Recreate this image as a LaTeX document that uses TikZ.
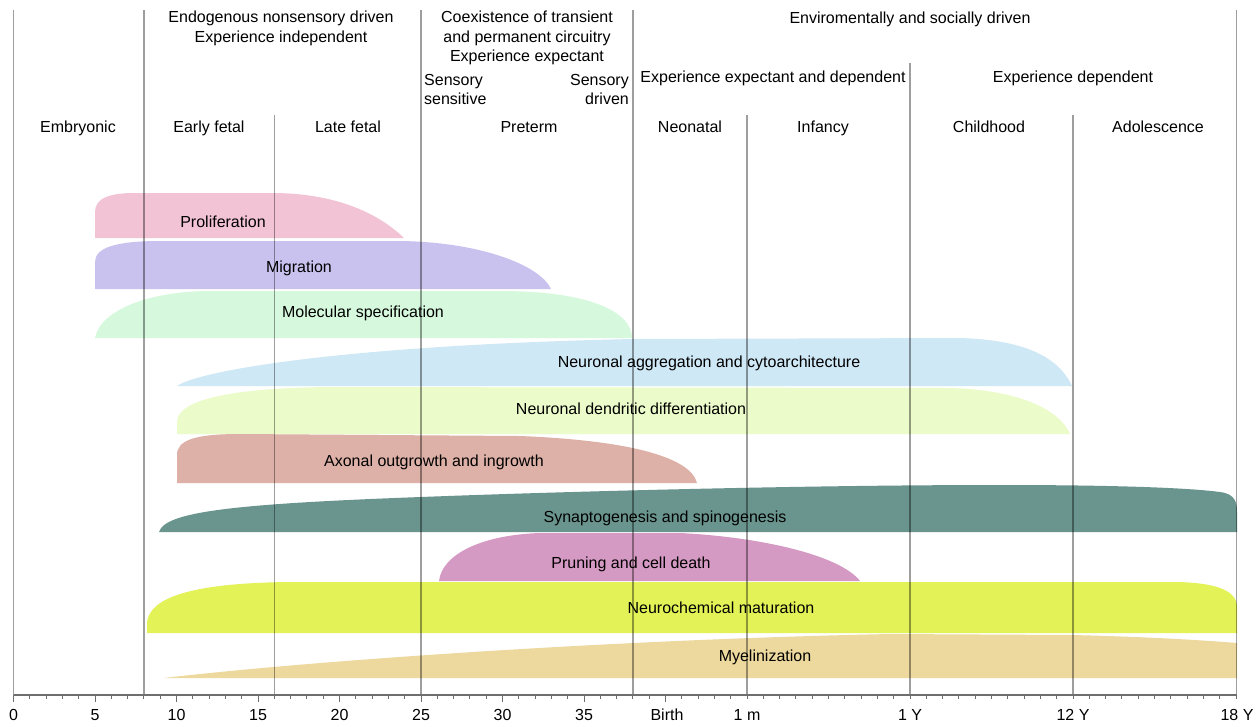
\documentclass[tikz,border=0pt]{standalone}
\usepackage{fontspec}
\setmainfont{Liberation Sans}
\definecolor{cProl}{HTML}{F2C3D4}
\definecolor{cMigr}{HTML}{C9C2EF}
\definecolor{cMole}{HTML}{D6F9DD}
\definecolor{cAggr}{HTML}{CFE8F5}
\definecolor{cDend}{HTML}{EBFBC9}
\definecolor{cAxon}{HTML}{DDB1A7}
\definecolor{cSyn}{HTML}{6A958E}
\definecolor{cPrun}{HTML}{D59AC3}
\definecolor{cNeur}{HTML}{E2F257}
\definecolor{cMyel}{HTML}{EDD89E}
\definecolor{cAxis}{HTML}{6E6E6E}
\begin{document}
\begin{tikzpicture}[x=1pt,y=-1pt,
  lbl/.style={font=\fontsize{16}{19}\selectfont, inner sep=0pt, text height=11.5pt, text depth=3.4pt, yshift=-1.5pt},
  vline/.style={draw=black, draw opacity=0.38, line width=1.5pt},
  axisline/.style={draw=cAxis, line width=1.2pt},
  tickmark/.style={draw=cAxis, line width=1pt}]
\useasboundingbox[fill=white] (0,0) rectangle (1258,726);

% ---------- bands ----------
\fill[cProl] (95,238) -- (95,212) .. controls (95,198) and (110,193) .. (135,193) -- (272,193) .. controls (330,193) and (375,210) .. (404,238) -- cycle;
\fill[cMigr] (95,289) -- (95,262) .. controls (95,248) and (115,241) .. (160,241) -- (400,241) .. controls (480,242) and (540,265) .. (551,289) -- cycle;
\fill[cMole] (95,338) .. controls (100,310) and (150,291) .. (210,291) -- (500,291) .. controls (590,291) and (632,312) .. (632,338) -- cycle;
\fill[cAggr] (177,386) .. controls (200,370) and (350,345) .. (633,339) -- (960,338) .. controls (1030,340) and (1060,360) .. (1072,386) -- cycle;
\fill[cDend] (177,434) -- (177,422) .. controls (177,400) and (230,388) .. (330,387) -- (950,388) .. controls (1020,390) and (1060,410) .. (1070,434) -- cycle;
\fill[cAxon] (177,483) -- (177,455) .. controls (177,440) and (195,434) .. (240,434) -- (520,436) .. controls (620,440) and (690,455) .. (697,483) -- cycle;
\fill[cSyn] (159,532) .. controls (165,512) and (230,504) .. (421,497) .. controls (550,492) and (800,485) .. (1000,485) .. controls (1120,485) and (1190,488) .. (1220,492) .. controls (1235,494) and (1237,502) .. (1237,512) -- (1237,532) -- cycle;
\fill[cPrun] (439,581) .. controls (442,555) and (480,535) .. (540,533) -- (680,533) .. controls (760,537) and (840,555) .. (860,581) -- cycle;
\fill[cNeur] (147,633) -- (147,622) .. controls (150,598) and (190,583) .. (290,582) -- (1178,582) .. controls (1215,583) and (1237,590) .. (1237,607) -- (1237,633) -- cycle;
\fill[cMyel] (164,678) .. controls (300,662) and (600,640) .. (890,634) -- (1073,635) .. controls (1150,637) and (1200,640) .. (1237,643) -- (1237,678) -- cycle;

% ---------- vertical period lines ----------
\coordinate (t0) at (13.5,10);   \coordinate (b0) at (13.5,695);
\coordinate (t8) at (143.9,10);  \coordinate (b8) at (143.9,695);
\coordinate (t16) at (274.3,115);\coordinate (b16) at (274.3,695);
\coordinate (t25) at (421,10);   \coordinate (b25) at (421,695);
\coordinate (t38) at (633,10);   \coordinate (b38) at (633,695);
\coordinate (t45) at (747,115);  \coordinate (b45) at (747,695);
\coordinate (t55) at (910,63);   \coordinate (b55) at (910,695);
\coordinate (t65) at (1073,115); \coordinate (b65) at (1073,695);
\coordinate (t75) at (1236.5,10);\coordinate (b75) at (1236.5,695);
\foreach \n in {0,8,16,25,38,45,55,65,75} \draw[vline] (t\n) -- (b\n);

% ---------- axis ----------
\draw[axisline] (b0) -- (b75);
\foreach \k in {0,...,75} \draw[tickmark] (13.5+16.3*\k,695) -- ++(0,3.5);
\foreach \k in {0,5,...,40} \draw[tickmark] (13.5+16.3*\k,695) -- ++(0,6.5);

\node[lbl] (a0) at (13.5,715) {0};
\node[lbl] (a5) at (95,715) {5};
\node[lbl] (a10) at (176.5,715) {10};
\node[lbl] (a15) at (258,715) {15};
\node[lbl] (a20) at (339.5,715) {20};
\node[lbl] (a25) at (421,715) {25};
\node[lbl] (a30) at (502.5,715) {30};
\node[lbl] (a35) at (584,715) {35};
\node[lbl] (abirth) at (667,715) {Birth};
\node[lbl] (a1m) at (747,715) {1 m};
\node[lbl] (a1y) at (910,715) {1 Y};
\node[lbl] (a12y) at (1073,715) {12 Y};
\node[lbl] (a18y) at (1237,715) {18 Y};

% ---------- header texts ----------
\node[lbl] (h1a) at (281,17) {Endogenous nonsensory driven};
\node[lbl] (h1b) at (281,37) {Experience independent};
\node[lbl] (h2a) at (527,17) {Coexistence of transient};
\node[lbl] (h2b) at (527,37) {and permanent circuitry};
\node[lbl] (h2c) at (527,56) {Experience expectant};
\node[lbl, anchor=west] (h3a) at (424,80) {Sensory};
\node[lbl, anchor=west] (h3b) at (424,99) {sensitive};
\node[lbl, anchor=east] (h4a) at (629,80) {Sensory};
\node[lbl, anchor=east] (h4b) at (629,99) {driven};
\node[lbl] (h5) at (910,18) {Enviromentally and socially driven};
\node[lbl] (h6) at (773,77) {Experience expectant and dependent};
\node[lbl] (h7) at (1073,77) {Experience dependent};

\node[lbl] (p1) at (78,127) {Embryonic};
\node[lbl] (p2) at (209,127) {Early fetal};
\node[lbl] (p3) at (348,127) {Late fetal};
\node[lbl] (p4) at (529,127) {Preterm};
\node[lbl] (p5) at (690,127) {Neonatal};
\node[lbl] (p6) at (823,127) {Infancy};
\node[lbl] (p7) at (989,127) {Childhood};
\node[lbl] (p8) at (1158,127) {Adolescence};

% ---------- band labels ----------
\node[lbl] (l1) at (223,222) {Proliferation};
\node[lbl] (l2) at (299,267) {Migration};
\node[lbl] (l3) at (363,312) {Molecular specification};
\node[lbl] (l4) at (709,362) {Neuronal aggregation and cytoarchitecture};
\node[lbl] (l5) at (631,409) {Neuronal dendritic differentiation};
\node[lbl] (l6) at (434,461) {Axonal outgrowth and ingrowth};
\node[lbl] (l7) at (665,517) {Synaptogenesis and spinogenesis};
\node[lbl] (l8) at (631,563) {Pruning and cell death};
\node[lbl] (l9) at (721,608) {Neurochemical maturation};
\node[lbl] (l10) at (765,656) {Myelinization};
\end{tikzpicture}
\end{document}
